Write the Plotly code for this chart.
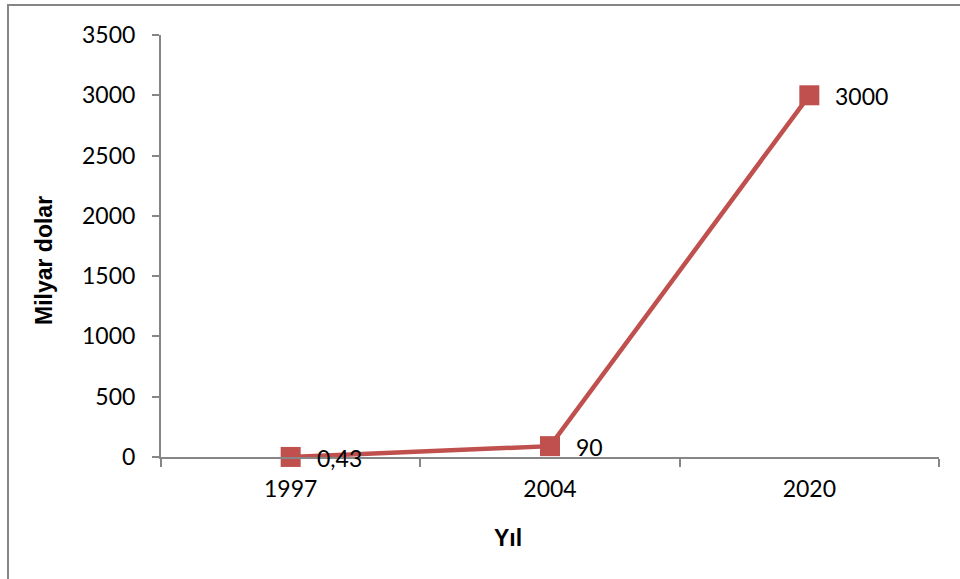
import plotly.graph_objects as go

# Data
years = ["1997", "2004", "2020"]
values = [0.43, 90, 3000]
value_labels = ["0,43", "90", "3000"]
y_ticks = [0, 500, 1000, 1500, 2000, 2500, 3000, 3500]

line_color = "#C0504D"
axis_color = "#868686"
font_family = "Lato, 'Open Sans', sans-serif"
title_family = "'Liberation Sans', Arial, sans-serif"

fig = go.Figure()
fig.add_trace(go.Scatter(
    x=years,
    y=values,
    mode="lines+markers",
    line=dict(color=line_color, width=4.5),
    marker=dict(symbol="square", size=20, color=line_color),
    cliponaxis=False,
    showlegend=False,
))

# Value labels placed just to the right of each marker (category index on x)
label_annotations = [
    dict(x=i, y=val, xref="x", yref="y", text=lbl, showarrow=False,
         xanchor="left", yanchor="middle", xshift=24, yshift=-1,
         font=dict(family=font_family, size=23, color="black"))
    for i, (val, lbl) in enumerate(zip(values, value_labels))
]

fig.update_layout(
    width=960,
    height=579,
    margin=dict(l=161, r=21, t=35, b=122),
    paper_bgcolor="white",
    plot_bgcolor="white",
    font=dict(family=font_family, size=23, color="black"),
    xaxis=dict(
        type="category",
        range=[-0.5, 2.5],
        showline=True,
        linecolor=axis_color,
        linewidth=2,
        ticks="outside",
        tickson="boundaries",
        ticklen=8,
        tickwidth=2,
        tickcolor=axis_color,
        showgrid=False,
        zeroline=False,
        ticklabelstandoff=10,
    ),
    yaxis=dict(
        range=[0, 3500],
        tickvals=y_ticks,
        ticktext=[str(v) for v in y_ticks],
        showline=True,
        linecolor=axis_color,
        linewidth=2,
        ticks="outside",
        ticklen=7,
        tickwidth=2,
        tickcolor=axis_color,
        showgrid=False,
        zeroline=False,
        ticklabelstandoff=12,
    ),
    annotations=label_annotations + [
        dict(text="<b>Yıl</b>", xref="paper", yref="paper",
             x=(508 - 161) / 778, y=-(538 - 457) / 422,
             showarrow=False, xanchor="center", yanchor="middle",
             font=dict(family=title_family, size=23)),
        dict(text="<b>Milyar dolar</b>", xref="paper", yref="paper",
             x=(44 - 161) / 778, y=(457 - 261) / 422, textangle=-90,
             showarrow=False, xanchor="center", yanchor="middle",
             font=dict(family=title_family, size=23)),
    ],
    shapes=[
        dict(type="rect", xref="paper", yref="paper",
             x0=(8 - 161) / 778, x1=(975 - 161) / 778,
             y0=-(600 - 457) / 422, y1=(457 - 5) / 422,
             line=dict(color=axis_color, width=2), layer="below"),
    ],
)

fig.write_html("out.html")
